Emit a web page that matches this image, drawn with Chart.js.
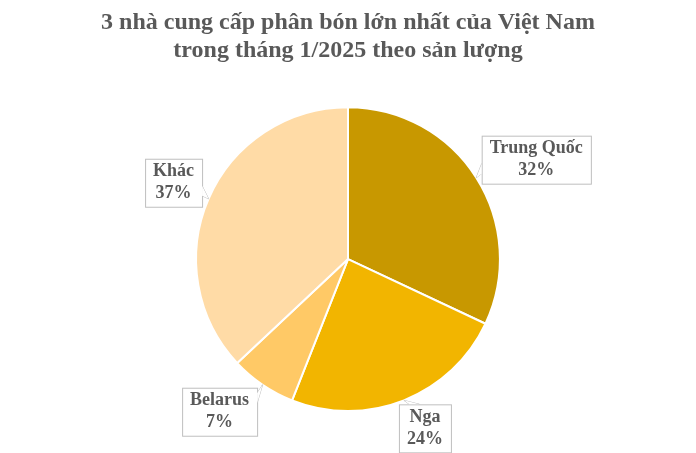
<!DOCTYPE html>
<html lang="vi">
<head>
<meta charset="utf-8">
<script src="https://cdn.jsdelivr.net/npm/chart.js@4/dist/chart.umd.min.js"></script>
<style>
  html, body { margin: 0; padding: 0; background: #ffffff; }
  #wrap { width: 696px; height: 453px; }
</style>
</head>
<body>
<div id="wrap"><canvas id="pieChart" width="696" height="453"></canvas></div>
<script>
// Données du graphique
const categories = ['Trung Quốc', 'Nga', 'Belarus', 'Khác'];
const shares = [32, 24, 7, 37];
const titleLines = ['3 nhà cung cấp phân bón lớn nhất của Việt Nam', 'trong tháng 1/2025 theo sản lượng'];

// Couleurs
const SLICE_COLORS = ['#C89800', '#F2B500', '#FFC966', '#FFDBA6'];
const TEXT_COLOR = '#595959';
const LABEL_FONT = 'bold 18px "Liberation Serif", "Times New Roman", serif';

// Décalage de chaque étiquette par rapport à la pointe (bord de la part)
const labelOffsets = [[60, -18], [21, 28], [-43, 27], [-35, -16]];

// Etiquettes encadrées avec une petite flèche vers la part
const calloutPlugin = {
    id: 'callouts',
    afterDatasetsDraw(chart) {
        const ctx = chart.ctx;
        const meta = chart.getDatasetMeta(0);
        ctx.save();
        ctx.font = LABEL_FONT;
        meta.data.forEach((arc, i) => {
            const mid = (arc.startAngle + arc.endAngle) / 2;
            const tipX = arc.x + Math.cos(mid) * arc.outerRadius;
            const tipY = arc.y + Math.sin(mid) * arc.outerRadius;
            const lines = [categories[i], shares[i] + '%'];
            const w = Math.max(...lines.map(t => ctx.measureText(t).width)) + 16;
            const h = 48;
            const cx = tipX + labelOffsets[i][0];
            const cy = tipY + labelOffsets[i][1];
            const left = cx - w / 2, top = cy - h / 2;

            // base de la flèche sur le bord du cadre le plus proche
            const dx = tipX - cx, dy = tipY - cy;
            let b1, b2;
            if (Math.abs(dx) / w > Math.abs(dy) / h) {
                const ex = dx > 0 ? left + w : left;
                const by = Math.max(top + 4, Math.min(top + h - 4, cy + dy * 0.5));
                b1 = [ex, by - 5]; b2 = [ex, by + 5];
            } else {
                const ey = dy > 0 ? top + h : top;
                const bx = Math.max(left + 4, Math.min(left + w - 4, cx + dx * 0.5));
                b1 = [bx - 5, ey]; b2 = [bx + 5, ey];
            }

            ctx.lineWidth = 1;
            ctx.strokeStyle = '#BFBFBF';
            ctx.fillStyle = '#ffffff';
            ctx.beginPath();
            ctx.moveTo(b1[0], b1[1]);
            ctx.lineTo(tipX, tipY);
            ctx.lineTo(b2[0], b2[1]);
            ctx.closePath();
            ctx.fill();
            ctx.stroke();

            ctx.fillRect(left, top, w, h);
            ctx.strokeRect(left + 0.5, top + 0.5, w, h);

            ctx.beginPath();
            ctx.moveTo(b1[0], b1[1]);
            ctx.lineTo(tipX, tipY);
            ctx.lineTo(b2[0], b2[1]);
            ctx.closePath();
            ctx.fill();

            ctx.fillStyle = TEXT_COLOR;
            ctx.textAlign = 'center';
            ctx.textBaseline = 'middle';
            ctx.fillText(lines[0], cx, cy - 11);
            ctx.fillText(lines[1], cx, cy + 11);
        });
        ctx.restore();
    }
};

function initPieChart() {
    const ctx = document.getElementById('pieChart').getContext('2d');
    return new Chart(ctx, {
        type: 'pie',
        data: {
            labels: categories,
            datasets: [{
                data: shares,
                backgroundColor: SLICE_COLORS,
                borderColor: '#ffffff',
                borderWidth: 2
            }]
        },
        options: {
            responsive: false,
            animation: false,
            layout: { padding: { top: 0, bottom: 41, left: 0, right: 0 } },
            plugins: {
                legend: { display: false },
                tooltip: { enabled: false },
                title: {
                    display: true,
                    text: titleLines,
                    color: TEXT_COLOR,
                    font: { family: '"Liberation Serif", "Times New Roman", serif', size: 24, weight: 'bold', lineHeight: 1.17 },
                    padding: { top: 9, bottom: 41 }
                }
            }
        },
        plugins: [calloutPlugin]
    });
}

document.addEventListener('DOMContentLoaded', initPieChart);
</script>
</body>
</html>
